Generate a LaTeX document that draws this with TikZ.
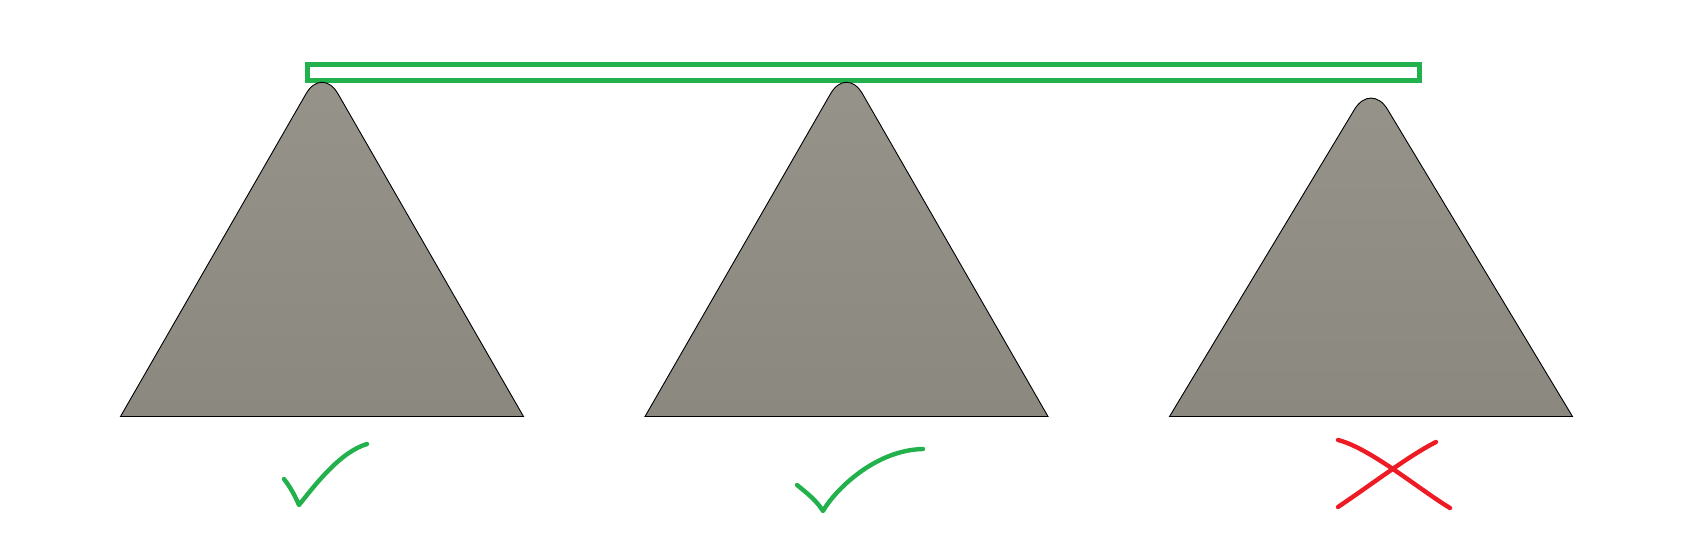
\documentclass[tikz,border=0pt]{standalone}
\usetikzlibrary{calc}
\definecolor{paintgreen}{RGB}{34,177,76}
\definecolor{paintred}{RGB}{237,28,36}
\definecolor{stonetop}{RGB}{150,147,139}
\definecolor{stonebot}{RGB}{139,136,128}
\tikzset{
  beam/.style={draw=paintgreen, line width=2.5pt, fill=white},
  stone/.style={draw=black, line width=0.45pt, top color=stonetop, bottom color=stonebot},
  okmark/.style={draw=paintgreen, line width=2.2pt, line cap=round, line join=round},
  badmark/.style={draw=paintred, line width=2.2pt, line cap=round, line join=round}
}
\begin{document}
\begin{tikzpicture}[x=0.5pt, y=-0.5pt]
  \def\hw{201.5}
  \def\by{416.5}
  \def\rc{16pt}

  % Fixed bounding box
  \path[use as bounding box] (0,0) rectangle (1707,552);

  % Green beam on top
  \draw[beam] (307.5,64.5) rectangle (1419.5,80.5);

  % Three triangles (centre x / apex y), only the apex is rounded
  \foreach \cx/\vy/\nm in {322/66/left, 846.5/66/mid, 1371/82/right} {
    \coordinate (\nm-a) at ({\cx-\hw},\by);
    \coordinate (\nm-t) at (\cx,\vy);
    \coordinate (\nm-b) at ({\cx+\hw},\by);
    \path[stone] (\nm-b) -- (\nm-a) -- ($(\nm-a)!0.5!(\nm-t)$)
      [rounded corners=\rc] -- (\nm-t) -- ($(\nm-t)!0.5!(\nm-b)$)
      [sharp corners] -- cycle;
  }

  % Tick below left triangle
  \draw[okmark] (284,479) .. controls (291,488) and (295,496) .. (299,505)
    .. controls (315,485) and (340,452) .. (367,444);
  % Tick below middle triangle
  \draw[okmark] (797,485) .. controls (808,494) and (816,500) .. (823,511)
    .. controls (835,490) and (875,450) .. (923,449);
  % Cross below right triangle
  \draw[badmark] (1338,440) .. controls (1370,448) and (1420,490) .. (1450,508);
  \draw[badmark] (1338,507) .. controls (1375,482) and (1410,455) .. (1436,442);

\end{tikzpicture}
\end{document}
